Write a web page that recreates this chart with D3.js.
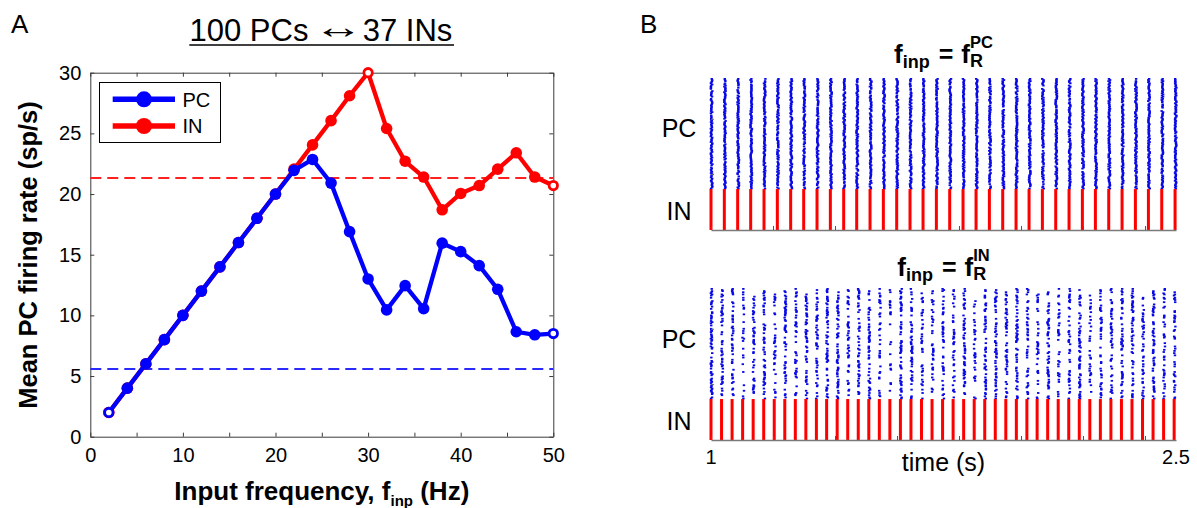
<!DOCTYPE html>
<html><head><meta charset="utf-8">
<script src="https://cdn.jsdelivr.net/npm/d3@7"></script>
<style>
body{margin:0;background:#fff;}
svg{display:block;font-family:"Liberation Sans",Arial,Helvetica,sans-serif;}
</style>
</head><body>
<svg id="c" width="1197" height="508"></svg>
<script>
// ---------------- Panel A data ----------------
const freqs = [2,4,6,8,10,12,14,16,18,20,22,24,26,28,30,32,34,36,38,40,42,44,46,48,50];
const pcRate = [2.0,4.0,6.0,8.0,10.0,12.0,14.0,16.0,18.0,20.0,21.95,22.85,20.9,16.9,13.0,10.45,12.45,10.55,15.95,15.25,14.1,12.15,8.65,8.4,8.5];
const inRate = [2.0,4.0,6.0,8.0,10.0,12.0,14.0,16.0,18.0,20.0,22.05,24.05,26.05,28.1,30.0,25.4,22.7,21.4,18.7,20.05,20.7,22.05,23.4,21.4,20.7];
const pcOpenAt = [2,50];
const inOpenAt = [30,50];
const pcSpontaneous = 5.55;
const inSpontaneous = 21.35;
const xTickValues = [0,5,10,15,20,25,30,35,40,45,50];
const xTickLabels = [0,10,20,30,40,50];
const yTickValues = [0,5,10,15,20,25,30];
const seriesNames = ["PC","IN"];

// ---------------- Panel B data ----------------
const rasterTimeTicks = [1,1.2,1.4,1.6,1.8,2.0,2.2,2.4];
const rasterTimeLabels = ["1","2.5"];
const nPC = 100, nIN = 37;
const inSpikesTop = [1.000,1.043,1.086,1.128,1.171,1.214,1.257,1.299,1.342,1.385,1.428,1.470,1.513,1.556,1.599,1.642,1.684,1.727,1.770,1.813,1.855,1.898,1.941,1.984,2.026,2.069,2.112,2.155,2.198,2.240,2.283,2.326,2.369,2.411,2.454,2.497];
const pcFracTop = [0.97,0.95,0.96,0.97,0.96,0.96,0.97,0.95,0.96,0.97,0.96,0.97,0.95,0.96,0.96,0.97,0.95,0.96,0.96,0.97,0.96,0.95,0.97,0.96,0.96,0.95,0.97,0.96,0.96,0.97,0.95,0.96,0.97,0.96,0.95,0.97];
const inSpikesBottom = [1.000,1.034,1.068,1.102,1.136,1.170,1.204,1.238,1.272,1.306,1.340,1.373,1.407,1.441,1.475,1.509,1.543,1.577,1.611,1.645,1.679,1.713,1.747,1.781,1.815,1.849,1.883,1.917,1.951,1.985,2.019,2.052,2.086,2.120,2.154,2.188,2.222,2.256,2.290,2.324,2.358,2.392,2.426,2.460,2.494];
const pcFracBottom = [0.70,0.45,0.35,0.30,0.38,0.50,0.30,0.45,0.40,0.35,0.45,0.55,0.50,0.40,0.45,0.50,0.35,0.30,0.45,0.50,0.40,0.35,0.45,0.40,0.55,0.40,0.50,0.45,0.40,0.50,0.45,0.35,0.50,0.40,0.45,0.50,0.35,0.45,0.40,0.50,0.45,0.40,0.45,0.35,0.50];

// ---------------- drawing ----------------
const svg = d3.select("#c");
const BLUE = "#0000ff", RED = "#ff0000";

// Panel A
const x = d3.scaleLinear().domain([0,50]).range([90.3,553.3]);
const y = d3.scaleLinear().domain([0,30]).range([436.7,72.7]);
const gA = svg.append("g");

function styleAxis(g, color){
  g.select(".domain").attr("stroke", color).attr("stroke-width",1);
  g.selectAll(".tick line").attr("stroke", color).attr("stroke-width",1);
  g.selectAll(".tick text").attr("fill","#000").style("font-size","20px")
    .style("font-family",'"Liberation Sans",Arial,sans-serif');
}
const axB = gA.append("g").attr("transform",`translate(0,${y(0)})`)
  .call(d3.axisBottom(x).tickValues(xTickValues).tickSize(-4).tickSizeOuter(0).tickPadding(11)
    .tickFormat(d => xTickLabels.includes(d) ? String(d) : ""));
styleAxis(axB,"#3a3a3a");
const axT = gA.append("g").attr("transform",`translate(0,${y(30)})`)
  .call(d3.axisTop(x).tickValues(xTickValues).tickSize(-4).tickSizeOuter(0).tickFormat(""));
styleAxis(axT,"#3a3a3a");
const axL = gA.append("g").attr("transform",`translate(${x(0)},0)`)
  .call(d3.axisLeft(y).tickValues(yTickValues).tickSize(-4).tickSizeOuter(0).tickPadding(9));
styleAxis(axL,"#3a3a3a");
const axR = gA.append("g").attr("transform",`translate(${x(50)},0)`)
  .call(d3.axisRight(y).tickValues(yTickValues).tickSize(-4).tickSizeOuter(0).tickFormat(""));
styleAxis(axR,"#3a3a3a");

// spontaneous (dashed) lines
gA.append("line").attr("x1",x(0)).attr("x2",x(50)).attr("y1",Math.round(y(inSpontaneous))).attr("y2",Math.round(y(inSpontaneous)))
  .attr("stroke","#ff2020").attr("stroke-width",1.8).attr("stroke-dasharray","11,6");
gA.append("line").attr("x1",x(0)).attr("x2",x(50)).attr("y1",Math.round(y(pcSpontaneous))).attr("y2",Math.round(y(pcSpontaneous)))
  .attr("stroke","#2a2aff").attr("stroke-width",1.8).attr("stroke-dasharray","11,6");

function drawSeries(vals, color, openAt){
  const pts = freqs.map((f,i)=>({f, v: vals[i]}));
  gA.append("path").datum(pts)
    .attr("d", d3.line().x(d=>x(d.f)).y(d=>y(d.v)))
    .attr("fill","none").attr("stroke",color).attr("stroke-width",4.3).attr("stroke-linejoin","round");
  gA.selectAll(null).data(pts).enter().append("circle")
    .attr("cx",d=>x(d.f)).attr("cy",d=>y(d.v))
    .attr("r",d=>openAt.includes(d.f)?4.2:5.8)
    .attr("fill",d=>openAt.includes(d.f)?"#fff":color)
    .attr("stroke",color).attr("stroke-width",d=>openAt.includes(d.f)?2.8:0);
}
drawSeries(inRate, RED, inOpenAt);
drawSeries(pcRate, BLUE, pcOpenAt);

// legend
const lg = gA.append("g");
lg.append("rect").attr("x",99.5).attr("y",82.5).attr("width",121).attr("height",60)
  .attr("fill","#fff").attr("stroke","#000").attr("stroke-width",1);
[[BLUE,99.3],[RED,126]].forEach(([c,yy],i)=>{
  lg.append("line").attr("x1",112.7).attr("x2",175).attr("y1",yy).attr("y2",yy)
    .attr("stroke",c).attr("stroke-width",5.5);
  lg.append("circle").attr("cx",144).attr("cy",yy).attr("r",8).attr("fill",c);
  lg.append("text").attr("x",182.5).attr("y",yy).attr("dy","0.36em").style("font-size","20px").text(seriesNames[i]);
});

// axis titles
const xt = gA.append("text").attr("x",(x(0)+x(50))/2).attr("y",500).attr("text-anchor","middle")
  .style("font-size","26px").style("font-weight","bold");
xt.append("tspan").text("Input frequency, f");
xt.append("tspan").attr("dy",6).style("font-size","15px").text("inp");
xt.append("tspan").attr("dy",-6).text(" (Hz)");
gA.append("text").attr("transform","translate(37,255) rotate(-90)").attr("text-anchor","middle")
  .style("font-size","25.5px").style("font-weight","bold").text("Mean PC firing rate (sp/s)");

// panel title with underline
const tg1 = gA.append("g").style("font-size","31px");
tg1.append("text").attr("x",189.5).attr("y",41).text("100 PCs");
tg1.append("text").attr("y",0).attr("x",0).attr("text-anchor","middle")
  .attr("transform","translate(338.3,38) scale(1.6,1.05)").text("\u2194");
tg1.append("text").attr("x",362.7).attr("y",41).text("37 INs");
gA.append("line").attr("x1",189.3).attr("x2",454).attr("y1",45).attr("y2",45)
  .attr("stroke","#000").attr("stroke-width",1.4);
svg.append("text").attr("x",11).attr("y",33).style("font-size","26px").text("A");
svg.append("text").attr("x",640).attr("y",33).style("font-size","26px").text("B");

// Panel B rasters
const xr = d3.scaleLinear().domain([1,2.5]).range([711,1176]);
function hash01(i,k){
  let h = (Math.imul(i+1,73856093) ^ Math.imul(k+1,19349663)) >>> 0;
  h = Math.imul(h ^ (h>>>13), 1274126177) >>> 0;
  h = (h ^ (h>>>16)) >>> 0;
  return (h % 10007)/10007;
}
function raster(top, bottom, inTimes, pcFrac, sup, titleBase, labels, lblY){
  const yr = d3.scaleLinear().domain([0,nPC+nIN]).range([bottom, top]);
  const g = svg.append("g");
  // PC spikes
  inTimes.forEach((t,k)=>{
    for(let i=0;i<nPC;i++){
      if(hash01(i,k) < pcFrac[k]){
        const jit = (hash01(i+500,k+900)-0.5)*1.6;
        g.append("rect").attr("x",xr(t)+0.6+jit-1.2).attr("y",yr(nIN+i+1)-0.3)
          .attr("width",2.4).attr("height",1.8).attr("fill","#0808e6");
      }
    }
  });
  // IN spikes
  g.selectAll(null).data(inTimes).enter().append("rect")
    .attr("x",t=>xr(t)-1.5).attr("y",yr(nIN)).attr("width",3).attr("height",yr(0)-yr(nIN))
    .attr("fill",RED);
  // axis
  const ax = g.append("g").attr("transform",`translate(0,${bottom})`)
    .call(d3.axisBottom(xr).tickValues(rasterTimeTicks).tickSize(-4).tickSizeOuter(0).tickFormat(""));
  ax.select(".domain").attr("stroke","#7a7a7a").attr("stroke-width",1.5);
  ax.selectAll(".tick line").attr("stroke","#555");
  [50,100].forEach(n=>{
    g.append("line").attr("x1",711).attr("x2",714).attr("y1",yr(n)).attr("y2",yr(n)).attr("stroke","#666");
  });
  if(labels){
    g.append("text").attr("x",xr(1)).attr("y",bottom+24).attr("text-anchor","middle").style("font-size","20px").text(rasterTimeLabels[0]);
    g.append("text").attr("x",xr(2.5)).attr("y",bottom+24).attr("text-anchor","middle").style("font-size","20px").text(rasterTimeLabels[1]);
    g.append("text").attr("x",(xr(1)+xr(2.5))/2).attr("y",bottom+31).attr("text-anchor","middle").style("font-size","25px").text("time (s)");
  }
  g.append("text").attr("x",679).attr("y",lblY[0]).attr("dy","0.36em").attr("text-anchor","middle").style("font-size","25px").text("PC");
  g.append("text").attr("x",679).attr("y",lblY[1]).attr("dy","0.36em").attr("text-anchor","middle").style("font-size","25px").text("IN");
  // title: f_inp = f_R^sup  (R below, sup above, stacked)
  const tg = g.append("g").style("font-weight","bold");
  let cx = 0;
  function piece(txt, size, dy){
    const t = tg.append("text").attr("x",cx).attr("y",titleBase+dy).style("font-size",size+"px").text(txt);
    return t.node().getComputedTextLength();
  }
  cx += piece("f",26,0);
  cx += piece("inp",18,5) + 9;
  cx += piece("=",25,0) + 8;
  cx += piece("f",26,0);
  const w5 = piece("R",18,4);
  const w6 = piece(sup,16.5,-15);
  cx += Math.max(w5,w6);
  tg.attr("transform",`translate(${(xr(1)+xr(2.5))/2 - cx/2},0)`);
}
raster(78.3, 230, inSpikesTop, pcFracTop, "PC", 63, false, [128,211]);
raster(288.3, 440, inSpikesBottom, pcFracBottom, "IN", 276, true, [339,421]);
</script>
</body></html>
